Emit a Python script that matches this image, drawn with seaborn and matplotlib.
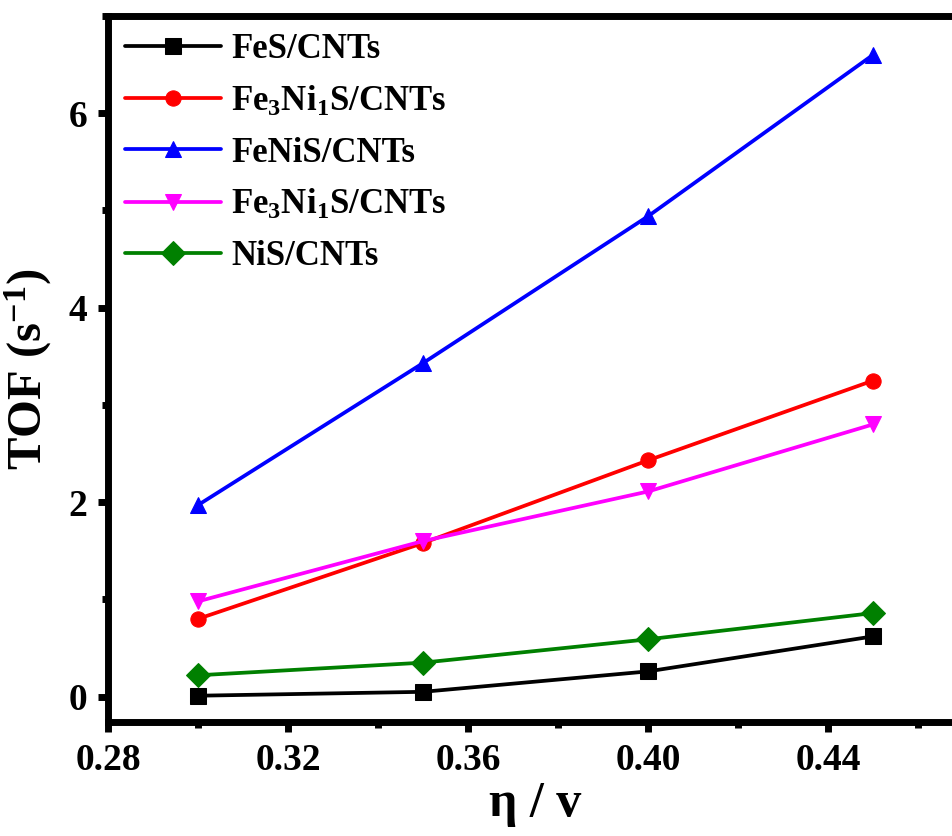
import numpy as np
import pandas as pd
import seaborn as sns
import matplotlib.pyplot as plt
from matplotlib.ticker import MultipleLocator

# Data
eta = [0.30, 0.35, 0.40, 0.45]
fes = [0.01, 0.05, 0.26, 0.62]
fe3ni1s_a = [0.80, 1.58, 2.43, 3.25]
fenis = [1.97, 3.43, 4.94, 6.60]
fe3ni1s_b = [0.98, 1.60, 2.11, 2.80]
nis = [0.22, 0.35, 0.59, 0.86]

labels = ['FeS/CNTs', r'Fe$_3$Ni$_1$S/CNTs', 'FeNiS/CNTs',
          r'Fe$_3$Ni$_1$S/CNTs', 'NiS/CNTs']
colors = ['black', 'red', 'blue', 'magenta', 'green']
markers = ['s', 'o', '^', 'v', 'D']
series = [fes, fe3ni1s_a, fenis, fe3ni1s_b, nis]

sns.set_style("ticks", {'axes.edgecolor': 'black', 'text.color': 'black',
                        'xtick.color': 'black', 'ytick.color': 'black',
                        'axes.labelcolor': 'black'})
plt.rcParams['font.family'] = ['Liberation Serif', 'DejaVu Serif']
plt.rcParams['font.weight'] = 'bold'
plt.rcParams['mathtext.fontset'] = 'custom'
plt.rcParams['mathtext.rm'] = 'Liberation Serif:bold'
plt.rcParams['mathtext.it'] = 'Liberation Serif:bold'
plt.rcParams['mathtext.bf'] = 'Liberation Serif:bold'

fig = plt.figure(figsize=(9.53, 8.36), dpi=100)
ax = fig.add_axes([0.1133, 0.1364, 0.8972, 0.8445])

for lab, col, mk, vals in zip(labels, colors, markers, series):
    df = pd.DataFrame({'eta': eta, 'tof': vals})
    ms = 12 if mk in ('^', 'v', 'D') else 11
    sns.lineplot(data=df, x='eta', y='tof', ax=ax, color=col, marker=mk,
                 markersize=ms, markeredgecolor=col, linewidth=2.7, label=lab)

ax.set_xlim(0.28, 0.47)
ax.set_ylim(-0.26, 7.0)
ax.xaxis.set_major_locator(MultipleLocator(0.04))
ax.xaxis.set_minor_locator(MultipleLocator(0.02))
ax.yaxis.set_major_locator(MultipleLocator(2))
ax.yaxis.set_minor_locator(MultipleLocator(1))
ax.set_xticklabels([f'{v:.2f}' for v in ax.get_xticks()])

for s in ['left', 'bottom', 'top']:
    ax.spines[s].set_linewidth(5)
    ax.spines[s].set_color('black')
ax.spines['right'].set_visible(False)

ax.tick_params(which='major', direction='out', length=7, width=5,
               labelsize=27, pad=8, top=False, right=False, colors='black')
ax.tick_params(which='minor', direction='out', length=4, width=5,
               top=False, right=False, colors='black')
for t in ax.get_xticklabels() + ax.get_yticklabels():
    t.set_fontweight('bold')

ax.set_xlabel(r'η / v', fontsize=36, fontweight='bold', labelpad=2)
ax.set_ylabel(r'TOF (s$^{-1}$)', fontsize=35, fontweight='bold', labelpad=10)

leg = ax.legend(loc='upper left', frameon=False, fontsize=25,
                handlelength=2.75, labelspacing=0.52, borderaxespad=0.2,
                handletextpad=0.3, borderpad=0.3)
for txt in leg.get_texts():
    txt.set_fontweight('bold')

fig.savefig('out.png', dpi=100)
plt.close()
